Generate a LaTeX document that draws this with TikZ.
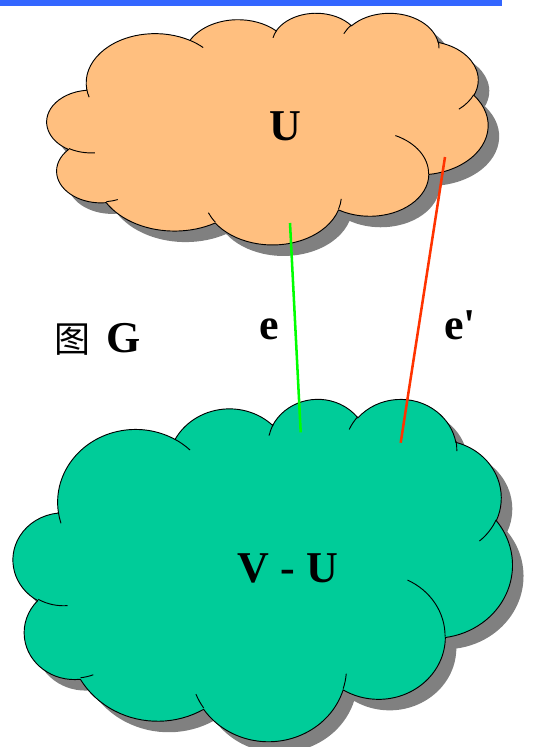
\documentclass[tikz,border=0pt]{standalone}
\usepackage{fontspec}
\setmainfont{Liberation Serif}
\newfontfamily\cgcjk{Noto Sans CJK SC}
\usetikzlibrary{calc}
\definecolor{cgBar}{HTML}{3366FF}
\definecolor{cgPeach}{HTML}{FFBF7F}
\definecolor{cgTeal}{HTML}{00CC99}
\definecolor{cgShade}{HTML}{808080}
\definecolor{cgLime}{HTML}{00FF00}
\definecolor{cgRed}{HTML}{FF3300}
\definecolor{cgInk}{HTML}{000000}
\newcommand{\cgdx}{11}
% one puff: radii, then start and sweep of the visual angle
\newcommand{\cgarc}[4]{%
  arc[x radius=#1, y radius=#2,
      start angle={atan2(#1*sin(#3),#2*cos(#3))},
      delta angle={mod(atan2(#1*sin(#3+#4),#2*cos(#3+#4))-atan2(#1*sin(#3),#2*cos(#3))+720,360)}]}
\newcommand{\cgcloudpath}{%
  (3.900,14.370)
  \cgarc{6.753}{9.190}{-190.4875}{123.7805}
  \cgarc{5.333}{7.267}{-144.1024}{89.9452}
  \cgarc{4.365}{5.945}{-145.8079}{99.7230}
  \cgarc{4.857}{6.595}{-130.9861}{117.2417}
  \cgarc{5.333}{7.273}{-78.7089}{109.0269}
  \cgarc{6.775}{9.220}{-46.2673}{130.2690}
  \cgarc{5.785}{7.867}{0.6250}{114.0333}
  \cgarc{6.752}{9.215}{22.4516}{115.1726}
  \cgarc{7.720}{10.543}{66.2426}{75.7110}
  \cgarc{4.360}{5.918}{-274.9421}{146.7356}
  \cgarc{4.345}{5.945}{-246.8285}{152.5189}
  -- cycle}
\newcommand{\cgcloudfolds}{%
  (4.693,26.177) \cgarc{4.345}{5.945}{86.7420}{26.4295}
  (6.928,34.899) \cgarc{4.360}{5.918}{73.6105}{11.4475}
  (16.478,39.090) \cgarc{6.752}{9.215}{137.6242}{14.0811}
  (28.827,34.751) \cgarc{6.752}{9.215}{6.4533}{15.9984}
  (34.129,22.954) \cgarc{5.785}{7.867}{-70.2924}{70.9174}
  (41.798,15.354) \cgarc{5.333}{7.273}{30.3180}{27.7515}
  (38.324,5.426) \cgarc{4.857}{6.595}{-13.7443}{14.8536}
  (29.078,3.952) \cgarc{4.857}{6.595}{-149.1815}{18.1954}
  (22.141,4.720) \cgarc{4.365}{5.945}{-163.4943}{17.6864}
  (14.000,5.192) \cgarc{6.753}{9.190}{-66.7070}{12.3194}
  (4.127,15.789) \cgarc{6.753}{9.190}{157.6544}{11.8582}}
\tikzset{
  cgshadow/.style={fill=cgShade},
  cgbody/.style={draw=cgInk, fill=#1, line width=0.7pt},
  cgfold/.style={draw=cgInk, line width=0.7pt},
  cgedge/.style={draw=#1, line width=1.9pt},
  cglabel/.style={font=\bfseries\fontsize{33}{38}\selectfont, text=cgInk, inner sep=0pt},
}
% #1 fill, #2 left, #3 top, #4 width, #5 height
\newcommand{\cgcloud}[5]{%
  \begin{scope}[shift={(#2+\cgdx,#3+\cgdx)}, xscale=#4/43.2, yscale=#5/43.2]
    \fill[cgshadow] \cgcloudpath;
  \end{scope}
  \begin{scope}[shift={(#2,#3)}, xscale=#4/43.2, yscale=#5/43.2]
    \draw[cgbody=#1] \cgcloudpath;
    \draw[cgfold] \cgcloudfolds;
  \end{scope}}

\begin{document}
\begin{tikzpicture}[x=0.75pt, y=-0.75pt]
\useasboundingbox (0,0) rectangle (543,747);
\fill[cgBar] (0,0) rectangle (502,5.5);

% Clouds ------------------------------------------------------------------
\cgcloud{cgPeach}{47}{12.5}{441}{231.6}
\cgcloud{cgTeal}{13.3}{398.2}{499}{342.3}

% Edges -------------------------------------------------------------------
\coordinate (eU) at (290,223);
\coordinate (eV) at (300.7,432.3);
\coordinate (fU) at (445,157);
\coordinate (fV) at (400.7,442.7);
\draw[cgedge=cgLime] (eU) -- (eV);
\draw[cgedge=cgRed] (fU) -- (fV);

% Labels ------------------------------------------------------------------
\node[cglabel] (lblU) at (285.5,126) {U};
\node[cglabel] (lblVU) at (288,568) {V - U};
\node[cglabel, anchor=base] (lblE) at (269,339) {e};
\node[cglabel, anchor=base] (lblEp) at (460,339) {e\textquotesingle};
\node[cglabel, anchor=base west] (lblG) at (54,352)
  {{\cgcjk\mdseries\fontsize{27}{30}\selectfont 图}\hspace{0.36em}G};

\end{tikzpicture}
\end{document}
